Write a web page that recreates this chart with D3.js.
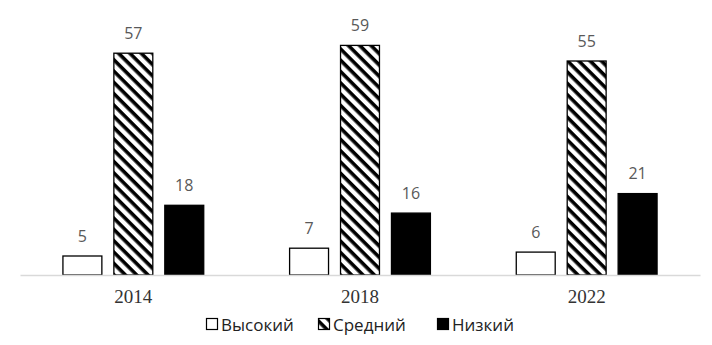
<!DOCTYPE html>
<html><head><meta charset="utf-8">
<script src="https://cdn.jsdelivr.net/npm/d3@7"></script>
<style>body{margin:0;background:#fff}</style>
</head><body>
<svg id="c" width="712" height="345"></svg>
<script>
const years = ["2014","2018","2022"];
const seriesNames = ["Высокий","Средний","Низкий"];
const high = [5,7,6];
const mid = [57,59,55];
const low = [18,16,21];

const svg = d3.select("#c");
const defs = svg.append("defs");
const pat = defs.append("pattern").attr("id","hatch").attr("patternUnits","userSpaceOnUse")
  .attr("width",8).attr("height",8).attr("patternTransform","rotate(45)");
pat.append("rect").attr("width",8).attr("height",8).attr("fill","#fff");
pat.append("rect").attr("x",0).attr("y",0).attr("width",8).attr("height",3.6).attr("fill","#000");

const x0 = d3.scaleBand().domain(years).range([20,700]);
const x1 = d3.scaleBand().domain(seriesNames).range([0,x0.bandwidth()]).paddingInner(0.216).paddingOuter(0.833);
const y = d3.scaleLinear().domain([0,70]).range([275,2]);
const fills = ["#fff","url(#hatch)","#000"];
const data = years.map((yr,i)=>({yr, vals:[high[i],mid[i],low[i]]}));

const g = svg.append("g");
data.forEach(d=>{
  d.vals.forEach((v,j)=>{
    const bx = x0(d.yr)+x1(seriesNames[j]);
    g.append("rect").attr("x",bx+0.5).attr("y",y(v)+0.5)
      .attr("width",x1.bandwidth()-1).attr("height",y(0)-y(v)-0.5)
      .attr("fill",fills[j]).attr("stroke","#000").attr("stroke-width",1.3);
    g.append("text").attr("x",bx+x1.bandwidth()/2).attr("y",y(v)-14)
      .attr("text-anchor","middle").attr("font-family","Open Sans, Liberation Sans, sans-serif")
      .attr("font-size",16).attr("fill","#595959").text(v);
  });
});

const ax = svg.append("g").attr("transform","translate(0,275)")
  .call(d3.axisBottom(x0).tickSize(0).tickPadding(15));
ax.select(".domain").attr("stroke","#d9d9d9").attr("stroke-width",1.3);
ax.selectAll("text").attr("font-family","Liberation Serif, serif").attr("font-size",19).attr("fill","#333");

const legX = [206,318,437];
const leg = svg.append("g");
seriesNames.forEach((n,j)=>{
  leg.append("rect").attr("x",legX[j]+0.5).attr("y",318.5).attr("width",11).attr("height",11)
    .attr("fill",fills[j]).attr("stroke","#000").attr("stroke-width",1.2);
  leg.append("text").attr("x",legX[j]+15).attr("y",331)
    .attr("font-family","Open Sans, Liberation Sans, sans-serif").attr("font-size",17)
    .attr("fill","#222").text(n);
});
</script>
</body></html>
